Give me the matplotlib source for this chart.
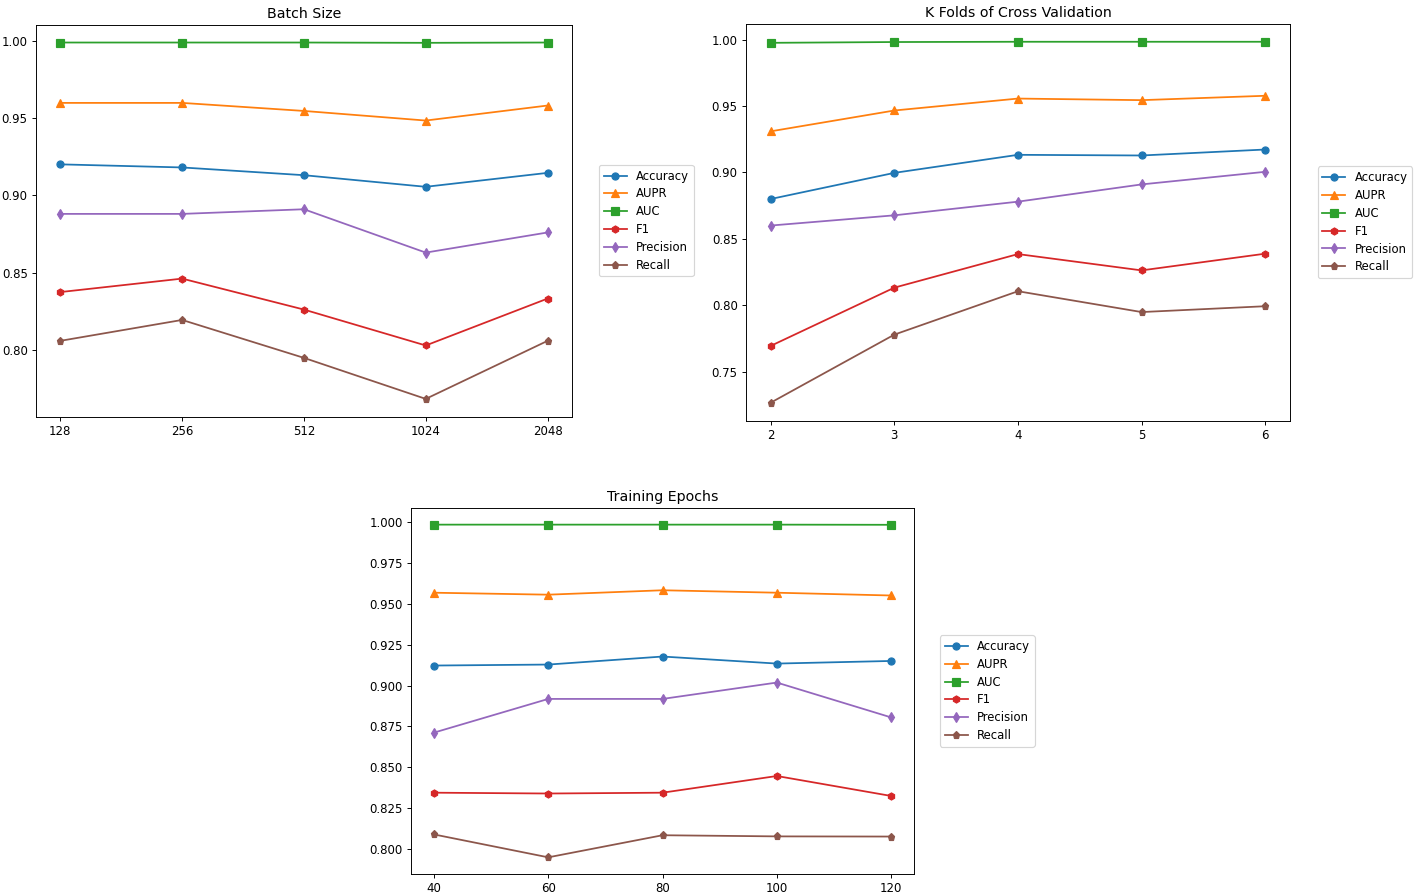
import matplotlib
matplotlib.use("Agg")
import matplotlib.pyplot as plt

# metric names and markers
metrics = ['Accuracy', 'AUPR', 'AUC', 'F1', 'Precision', 'Recall']
markers = ['o', '^', 's', 'h', 'd', 'p']

# batch size
batch_labels = ['128', '256', '512', '1024', '2048']
batch_acc = [0.920, 0.918, 0.913, 0.9055, 0.9145]
batch_aupr = [0.9597, 0.9597, 0.9545, 0.9483, 0.9580]
batch_auc = [0.9987, 0.9987, 0.9987, 0.9985, 0.9987]
batch_f1 = [0.8375, 0.8462, 0.8262, 0.8030, 0.8333]
batch_prec = [0.888, 0.888, 0.891, 0.863, 0.876]
batch_rec = [0.806, 0.8195, 0.795, 0.7685, 0.806]

# k folds
kfold_x = [2, 3, 4, 5, 6]
kfold_acc = [0.880, 0.8997, 0.9133, 0.9128, 0.9173]
kfold_aupr = [0.931, 0.9467, 0.9557, 0.9545, 0.9578]
kfold_auc = [0.9977, 0.9983, 0.9985, 0.9985, 0.9985]
kfold_f1 = [0.7693, 0.8132, 0.8385, 0.8262, 0.8388]
kfold_prec = [0.8600, 0.8677, 0.8780, 0.8910, 0.9005]
kfold_rec = [0.7265, 0.7778, 0.8105, 0.7948, 0.7992]

# epochs
epoch_x = [40, 60, 80, 100, 120]
epoch_acc = [0.9122, 0.9128, 0.9177, 0.9134, 0.9150]
epoch_aupr = [0.9567, 0.9555, 0.9582, 0.9567, 0.9550]
epoch_auc = [0.9983, 0.9983, 0.9983, 0.9983, 0.9982]
epoch_f1 = [0.8345, 0.8340, 0.8345, 0.8447, 0.8325]
epoch_prec = [0.8712, 0.8918, 0.8918, 0.9018, 0.8805]
epoch_rec = [0.8090, 0.7950, 0.8085, 0.8078, 0.8077]

fig = plt.figure(figsize=(1416 / 85, 895 / 85), dpi=85)

def panel(rect, x, series, title):
    ax = fig.add_axes(rect)
    for name, m, vals in zip(metrics, markers, series):
        ax.plot(x, vals, marker=m, label=name)
    ax.set_title(title)
    ax.set_xticks(x)
    ax.legend(loc='center left', bbox_to_anchor=(1.04, 0.5), fontsize=9.8, labelspacing=0.42)
    return ax

panel([0.0254, 0.5344, 0.3785, 0.4380], batch_labels,
      [batch_acc, batch_aupr, batch_auc, batch_f1, batch_prec, batch_rec], 'Batch Size')
panel([0.5268, 0.5299, 0.3842, 0.4436], kfold_x,
      [kfold_acc, kfold_aupr, kfold_auc, kfold_f1, kfold_prec, kfold_rec], 'K Folds of Cross Validation')
panel([0.2903, 0.0235, 0.3552, 0.4089], epoch_x,
      [epoch_acc, epoch_aupr, epoch_auc, epoch_f1, epoch_prec, epoch_rec], 'Training Epochs')

fig.savefig('out.png', dpi=85)
